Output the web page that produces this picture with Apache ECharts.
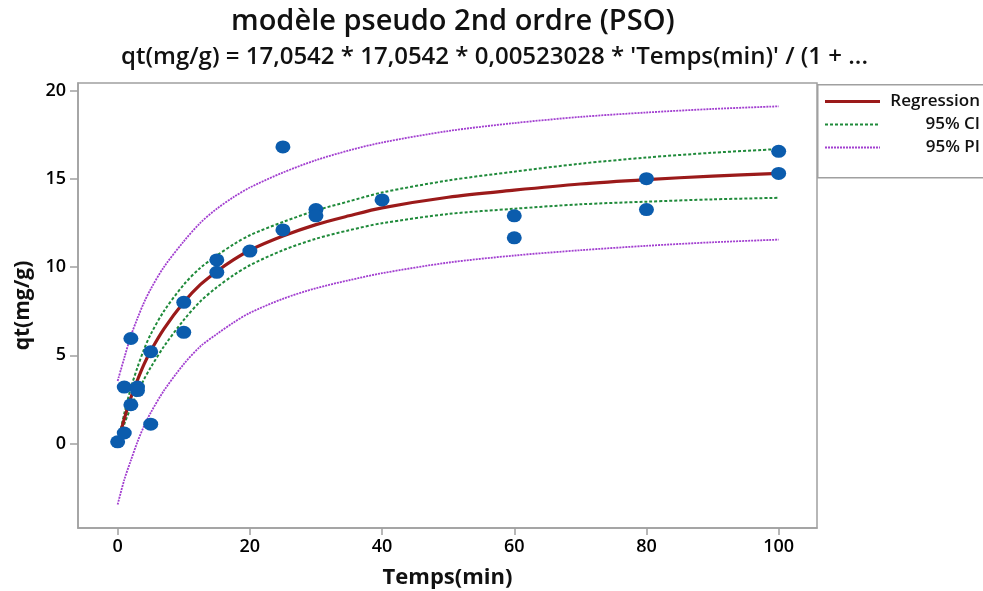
<!DOCTYPE html>
<html>
<head>
<meta charset="utf-8">
<script src="https://cdn.jsdelivr.net/npm/echarts@6/dist/echarts.min.js"></script>
<style>
html,body{margin:0;padding:0;background:#fff;}
#chart{width:983px;height:591px;}
</style>
</head>
<body>
<div id="chart"></div>
<script>
// Observed data points
const obsTime = [0, 1, 1, 2, 2, 3, 3, 5, 5, 10, 10, 15, 15, 20, 25, 25, 30, 30, 40, 60, 60, 80, 80, 100, 100];
const obsQt   = [0.1, 0.6, 3.2, 2.2, 5.95, 3.2, 3.0, 5.2, 1.1, 8.0, 6.3, 10.4, 9.7, 10.9, 16.8, 12.1, 13.25, 12.9, 13.8, 12.9, 11.65, 15.0, 13.25, 16.55, 15.3];

// Fitted curve and bands
const fitTime = [0, 1, 2, 3, 4, 5, 7, 10, 12.5, 15, 17.5, 20, 25, 30, 35, 40, 50, 60, 70, 80, 90, 100];
const fitReg  = [0, 1.4, 2.6, 3.6, 4.5, 5.25, 6.5, 8.0, 9.0, 9.75, 10.4, 10.95, 11.75, 12.4, 12.9, 13.35, 13.95, 14.35, 14.7, 14.95, 15.15, 15.3];
const ciUpper = [0, 1.7, 3.15, 4.32, 5.35, 6.19, 7.5, 9.0, 9.95, 10.65, 11.27, 11.8, 12.55, 13.2, 13.72, 14.22, 14.9, 15.4, 15.85, 16.2, 16.47, 16.68];
const ciLower = [0, 1.1, 2.05, 2.88, 3.65, 4.31, 5.5, 7.0, 8.05, 8.85, 9.53, 10.1, 10.95, 11.6, 12.08, 12.48, 13.0, 13.3, 13.55, 13.7, 13.83, 13.92];
const piUpper = [3.55, 4.85, 6.1, 7.1, 8.0, 8.75, 10.0, 11.45, 12.5, 13.3, 13.95, 14.5, 15.35, 16.05, 16.6, 17.05, 17.7, 18.15, 18.5, 18.75, 18.95, 19.1];
const piLower = [-3.45, -2.05, -0.95, 0.1, 1.0, 1.75, 3.0, 4.5, 5.5, 6.2, 6.85, 7.4, 8.2, 8.8, 9.25, 9.65, 10.25, 10.65, 10.95, 11.2, 11.4, 11.55];

const xTicks = [0, 20, 40, 60, 80, 100];
const yTicks = [0, 5, 10, 15, 20];

const titleText = 'modèle pseudo 2nd ordre (PSO)';
const subtitleText = "qt(mg/g) = 17,0542 * 17,0542 * 0,00523028 * 'Temps(min)' / (1 + ...";
const legendNames = ['Regression', '95% CI', '95% PI'];

const pair = (xs, ys) => xs.map((x, i) => [x, ys[i]]);

const FONT = '"Open Sans", "Noto Sans", sans-serif';
const REG = '#9b1a1a', CI = '#1f8a3a', PI = '#a23fd0', PT = '#0b5cad';
const legendColors = [REG, CI, PI];
const legendDash = [null, [3, 2], [2, 1]];
const legendWidths = [3, 2, 1.8];

const legendGraphics = [
  {type: 'rect', left: 817, top: 84, shape: {width: 200, height: 93}, style: {fill: '#fff', stroke: '#a0a0a0', lineWidth: 1.5}, z: 0}
];
legendNames.forEach((n, i) => {
  const y = 101.5 + i * 23;
  legendGraphics.push({type: 'line', shape: {x1: 825, y1: y, x2: 880, y2: y},
    style: {stroke: legendColors[i], lineWidth: legendWidths[i], lineDash: legendDash[i]}, z: 1});
  legendGraphics.push({type: 'text', x: 980, y: y, style: {text: n, align: 'right', verticalAlign: 'middle',
    fontFamily: FONT, fontSize: 17, fontWeight: 600, fill: '#111'}, z: 1});
});

const chart = echarts.init(document.getElementById('chart'), null, {renderer: 'canvas'});
chart.setOption({
  animation: false,
  backgroundColor: '#fff',
  title: [
    {text: titleText, left: 226, top: 2, textStyle: {fontFamily: FONT, fontSize: 29, fontWeight: 600, color: '#111'}},
    {text: subtitleText, left: 116, top: 40, textStyle: {fontFamily: FONT, fontSize: 24, fontWeight: 600, color: '#111'}}
  ],
  graphic: legendGraphics,
  grid: {left: 78, right: 166, top: 83, bottom: 63, show: true, borderColor: '#a0a0a0', borderWidth: 1.5,
         containLabel: false, outerBoundsMode: 'none'},
  xAxis: {
    type: 'value', min: -6, max: 105.8,
    name: 'Temps(min)', nameLocation: 'middle', nameGap: 39,
    nameTextStyle: {fontFamily: FONT, fontSize: 22, fontWeight: 'bold', color: '#111'},
    axisLine: {show: true, onZero: false, lineStyle: {color: '#a0a0a0', width: 1.5}},
    axisTick: {show: true, customValues: xTicks, length: 7, lineStyle: {color: '#a0a0a0', width: 1.5}},
    axisLabel: {customValues: xTicks, fontFamily: FONT, fontSize: 18, fontWeight: 600, color: '#000', margin: 10},
    splitLine: {show: false}
  },
  yAxis: {
    type: 'value', min: -4.78, max: 20.42,
    name: 'qt(mg/g)', nameLocation: 'middle', nameGap: 44, nameRotate: 90,
    nameTextStyle: {fontFamily: FONT, fontSize: 21, fontWeight: 'bold', color: '#111'},
    axisLine: {show: true, onZero: false, lineStyle: {color: '#a0a0a0', width: 1.5}},
    axisTick: {show: true, customValues: yTicks, length: 8, lineStyle: {color: '#a0a0a0', width: 1.5}},
    axisLabel: {customValues: yTicks, fontFamily: FONT, fontSize: 18, fontWeight: 600, color: '#000', margin: 12},
    splitLine: {show: false}
  },
  series: [
    {name: '95% PI', type: 'line', data: pair(fitTime, piUpper), symbol: 'none', smooth: 0.3,
     lineStyle: {color: PI, width: 1.8, type: [2, 1]}, itemStyle: {color: PI}, z: 2},
    {name: '95% PI', type: 'line', data: pair(fitTime, piLower), symbol: 'none', smooth: 0.3,
     lineStyle: {color: PI, width: 1.8, type: [2, 1]}, itemStyle: {color: PI}, z: 2},
    {name: '95% CI', type: 'line', data: pair(fitTime, ciUpper), symbol: 'none', smooth: 0.3,
     lineStyle: {color: CI, width: 2, type: [3, 2]}, itemStyle: {color: CI}, z: 3},
    {name: '95% CI', type: 'line', data: pair(fitTime, ciLower), symbol: 'none', smooth: 0.3,
     lineStyle: {color: CI, width: 2, type: [3, 2]}, itemStyle: {color: CI}, z: 3},
    {name: 'Regression', type: 'line', data: pair(fitTime, fitReg), symbol: 'none', smooth: 0.3,
     lineStyle: {color: REG, width: 3.2}, itemStyle: {color: REG}, z: 4},
    {name: 'Données', type: 'scatter', data: pair(obsTime, obsQt), symbol: 'circle', symbolSize: [15, 13],
     itemStyle: {color: PT, opacity: 1}, z: 6}
  ]
});
</script>
</body>
</html>
